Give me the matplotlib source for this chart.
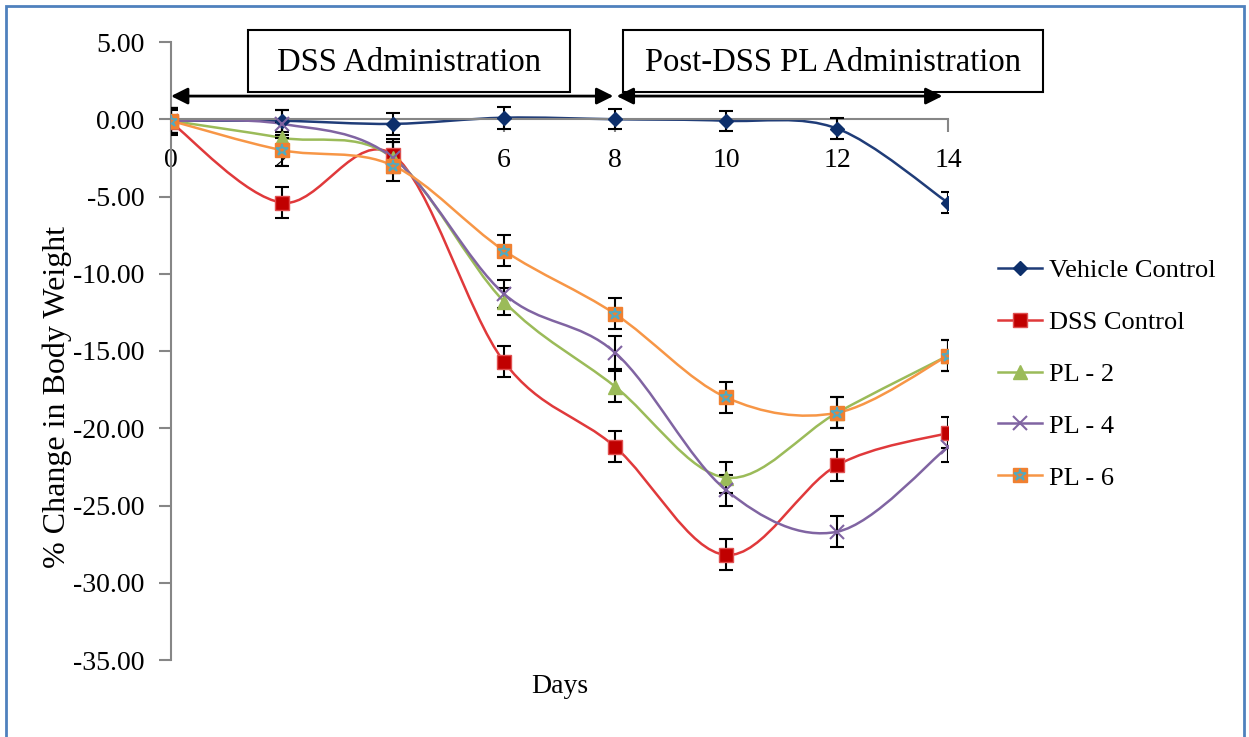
import numpy as np
import matplotlib.pyplot as plt
from matplotlib.path import Path
from matplotlib.patches import PathPatch, Rectangle
from matplotlib.lines import Line2D

plt.rcParams['font.family'] = ['Liberation Serif', 'DejaVu Serif']

# données
days = [0, 2, 4, 6, 8, 10, 12, 14]
vehicle = [-0.1, -0.1, -0.3, 0.1, 0.0, -0.1, -0.6, -5.4]
dss = [-0.2, -5.4, -2.3, -15.7, -21.2, -28.2, -22.4, -20.3]
pl2 = [-0.1, -1.2, -2.5, -11.8, -17.3, -23.2, -19.0, -15.3]
pl4 = [-0.1, -0.3, -2.5, -11.3, -15.1, -24.0, -26.7, -21.2]
pl6 = [-0.1, -2.0, -3.0, -8.5, -12.6, -18.0, -19.0, -15.3]
err_vehicle = [0.8, 0.7, 0.7, 0.7, 0.65, 0.65, 0.7, 0.7]
err_dss = [0.8, 1.0, 1.0, 1.0, 1.0, 1.0, 1.0, 1.0]
err_pl2 = [0.8, 1.0, 1.0, 0.9, 1.0, 1.0, 1.0, 1.0]
err_pl4 = [0.8, 0.9, 1.0, 0.9, 1.05, 1.0, 1.0, 1.0]
err_pl6 = [0.8, 1.0, 1.0, 1.0, 1.0, 1.0, 1.0, 1.0]
labels = ['Vehicle Control', 'DSS Control', 'PL - 2', 'PL - 4', 'PL - 6']
yticks = [5, 0, -5, -10, -15, -20, -25, -30, -35]


def smooth_path(x, y):
    # courbe lissée façon Excel (Bézier / Catmull-Rom)
    x = np.asarray(x, float)
    y = np.asarray(y, float)
    n = len(x)
    verts = [(x[0], y[0])]
    codes = [Path.MOVETO]
    for i in range(n - 1):
        a = i - 1 if i > 0 else i
        b = i + 2 if i + 2 < n else i + 1
        c1 = (x[i] + (x[i + 1] - x[a]) / 6, y[i] + (y[i + 1] - y[a]) / 6)
        c2 = (x[i + 1] - (x[b] - x[i]) / 6, y[i + 1] - (y[b] - y[i]) / 6)
        verts += [c1, c2, (x[i + 1], y[i + 1])]
        codes += [Path.CURVE4] * 3
    return Path(verts, codes)


fig = plt.figure(figsize=(12.49, 7.37), dpi=100)
ax = fig.add_axes([171 / 1249, 1 - 660 / 737, 777 / 1249, 618 / 737])

series = [
    (vehicle, err_vehicle, '#1f3c78', dict(marker='D', ms=7, mfc='#0d2f6b', mec='#0d2f6b')),
    (dss, err_dss, '#e0393b', dict(marker='s', ms=10, mfc='#c00000', mec='#e05050')),
    (pl2, err_pl2, '#9bbb59', dict(marker='^', ms=10, mfc='#9bbb59', mec='#9bbb59')),
    (pl4, err_pl4, '#8064a2', dict(marker='x', ms=10, mew=1.5, mfc='#8064a2', mec='#8064a2')),
    (pl6, err_pl6, '#f79646', dict(marker='s', ms=10, mfc='#f08030', mec='#f08030')),
]

handles = []
for vals, err, col, mk in series:
    ax.add_patch(PathPatch(smooth_path(days, vals), fill=False, edgecolor=col, lw=1.8, zorder=2))
    ax.errorbar(days, vals, yerr=err, fmt='none', ecolor='black', elinewidth=1.5,
                capsize=5, capthick=1.5, zorder=3)
    ax.plot(days, vals, linestyle='none', zorder=4, **mk)
    handles.append(Line2D([], [], color=col, lw=1.8, **mk))

# astérisque cyan sur les carrés PL - 6
ax.plot(days, pl6, linestyle='none', marker='*', ms=9, mfc='none', mec='#4bacc6', mew=1.2, zorder=5)
handles[-1] = (handles[-1], Line2D([], [], linestyle='none', marker='*', ms=9, mfc='none',
                                   mec='#4bacc6', mew=1.2))

ax.set_xlim(0, 14)
ax.set_ylim(-35, 5)
ax.set_xticks(days)
ax.set_yticks(yticks)
ax.set_yticklabels([f'{v:.2f}' for v in yticks])
ax.spines['top'].set_visible(False)
ax.spines['right'].set_visible(False)
ax.spines['bottom'].set_position(('data', 0))
for s in ('left', 'bottom'):
    ax.spines[s].set_color('#868686')
    ax.spines[s].set_linewidth(1.5)
ax.tick_params(axis='both', direction='out', length=9, width=1.5, color='#868686',
               labelsize=20)
ax.tick_params(axis='x', pad=12)
ax.tick_params(axis='y', pad=10)
ax.set_xlabel('Days', fontsize=20)
ax.xaxis.set_label_coords(0.5, -0.023)
ax.set_ylabel('% Change in Body Weight', fontsize=23)
ax.yaxis.set_label_coords(-0.127, 0.425)

# flèches des périodes
ax.annotate('', xy=(0, 1.5), xytext=(7.97, 1.5),
            arrowprops=dict(arrowstyle='<|-|>', color='black', lw=2, shrinkA=0, shrinkB=0,
                            mutation_scale=25), annotation_clip=False)
ax.annotate('', xy=(8.03, 1.5), xytext=(13.9, 1.5),
            arrowprops=dict(arrowstyle='<|-|>', color='black', lw=2, shrinkA=0, shrinkB=0,
                            mutation_scale=25), annotation_clip=False)

W, H = 1249, 737
for x0, x1, txt in [(248, 570, 'DSS Administration'), (623, 1043, 'Post-DSS PL Administration')]:
    fig.add_artist(Rectangle((x0 / W, 1 - 92 / H), (x1 - x0) / W, 62 / H, fill=False,
                             edgecolor='black', lw=1.5, transform=fig.transFigure))
    fig.text((x0 + x1) / 2 / W, 1 - 63 / H, txt, fontsize=23.5, ha='center', va='center')

# cadre bleu
fig.add_artist(Rectangle((6 / W, -0.02), 1238 / W, 1.02 - 6 / H, fill=False,
                         edgecolor='#4f81bd', lw=2, transform=fig.transFigure, clip_on=False))

fig.legend(handles, labels, loc='center left', bbox_to_anchor=(998 / W, 1 - 374 / H),
           frameon=False, fontsize=19, handlelength=1.67, handletextpad=0.25,
           labelspacing=1.08, borderpad=0, borderaxespad=0)

fig.savefig('out.png', dpi=100)
